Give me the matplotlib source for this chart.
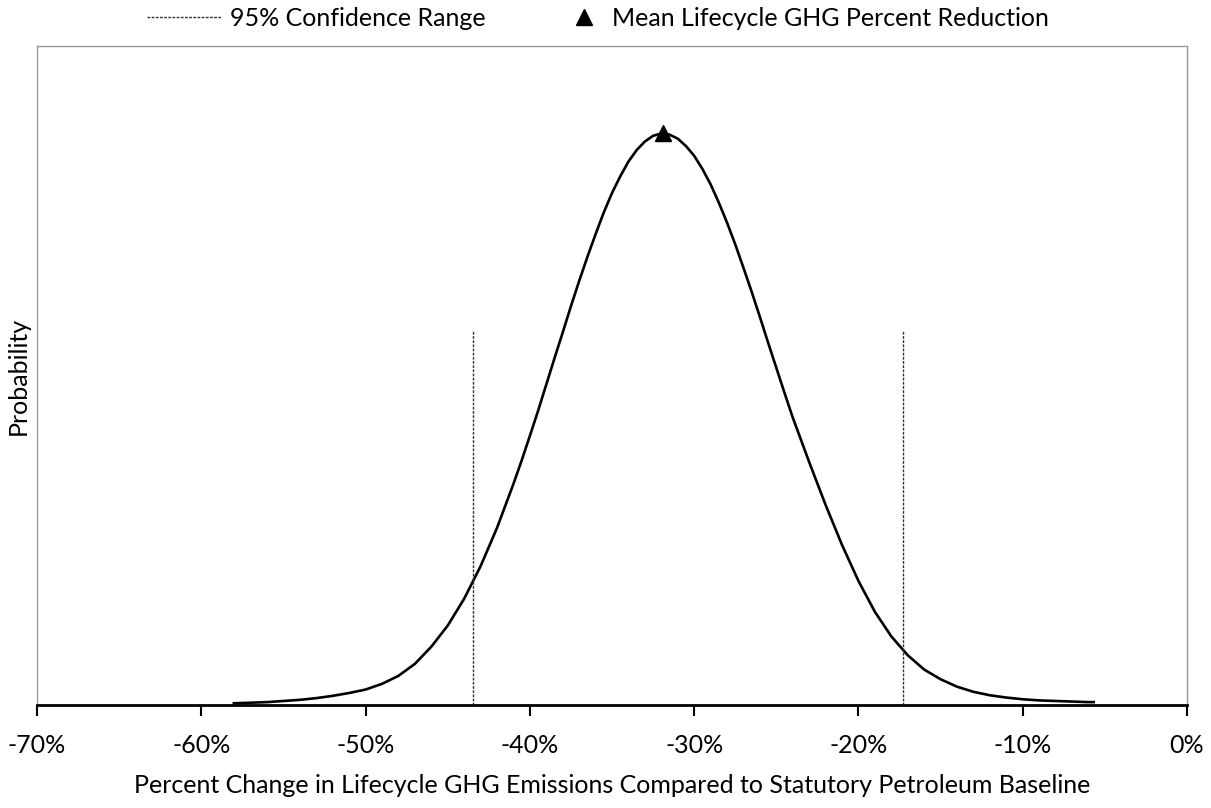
import numpy as np
from matplotlib import pyplot as plt
from matplotlib.lines import Line2D

# percent change (x) and relative probability (peak = 1)
pct_change = [-58.1, -58, -57, -56, -55, -54, -53, -52, -51, -50, -49, -48, -47,
              -46, -45, -44, -43, -42, -41, -40.5, -40, -39.5, -39, -38.5, -38,
              -37.5, -37, -36.5, -36, -35.5, -35, -34.5, -34, -33.5, -33, -32.5,
              -32, -31.9, -31.5, -31, -30.5, -30, -29.5, -29, -28.5, -28, -27.5,
              -27, -26.5, -26, -25.5, -25, -24.5, -24, -23.5, -23, -22, -21, -20,
              -19, -18, -17, -16, -15, -14, -13, -12, -11, -10, -9, -8, -7, -6,
              -5.6]
probability = [0.003, 0.003, 0.004, 0.005, 0.007, 0.009, 0.012, 0.016, 0.021,
               0.027, 0.037, 0.051, 0.072, 0.102, 0.139, 0.186, 0.243, 0.310,
               0.387, 0.428, 0.471, 0.515, 0.561, 0.607, 0.652, 0.698, 0.742,
               0.784, 0.824, 0.862, 0.896, 0.925, 0.951, 0.971, 0.986, 0.996,
               1.000, 1.000, 0.998, 0.991, 0.978, 0.961, 0.938, 0.911, 0.879,
               0.844, 0.806, 0.765, 0.723, 0.679, 0.634, 0.590, 0.546, 0.503,
               0.464, 0.425, 0.350, 0.280, 0.217, 0.163, 0.120, 0.087, 0.062,
               0.045, 0.032, 0.023, 0.017, 0.013, 0.010, 0.008, 0.007, 0.006,
               0.005, 0.005]

# 95% confidence range and mean
ci_bounds = [-43.45, -17.3]
ci_height = 0.656
mean_pct = -31.9
mean_prob = 1.0

x_ticks = [-70, -60, -50, -40, -30, -20, -10, 0]
x_tick_labels = ['-70%', '-60%', '-50%', '-40%', '-30%', '-20%', '-10%', '0%']

plt.rcParams['font.family'] = ['Lato', 'DejaVu Sans']

fig = plt.figure(figsize=(12.11, 8.08), dpi=100)
ax = fig.add_axes([0.0306, 0.1275, 0.9496, 0.8155])

ax.plot(pct_change, probability, color='black', lw=1.9,
        solid_joinstyle='round', solid_capstyle='butt')
for b in ci_bounds:
    ax.plot([b, b], [0, ci_height], color='#333333', lw=1.0, linestyle=(0, (2, 1)))
ax.plot([mean_pct], [mean_prob], marker='^', color='black', markersize=12,
        linestyle='none')

ax.set_xlim(-70, 0)
ax.set_ylim(0, 1.153)
ax.set_xticks(x_ticks)
ax.set_xticklabels(x_tick_labels, fontsize=18)
ax.set_yticks([])
ax.tick_params(axis='x', direction='out', length=8, width=1.5, pad=13)

for side in ['top', 'left', 'right']:
    ax.spines[side].set_color('#999999')
    ax.spines[side].set_linewidth(1.0)
ax.spines['bottom'].set_color('black')
ax.spines['bottom'].set_linewidth(2.0)

ax.set_xlabel('Percent Change in Lifecycle GHG Emissions Compared to Statutory Petroleum Baseline',
              fontsize=18, labelpad=12)
ax.set_ylabel('Probability', fontsize=18, labelpad=5)

# legend, two pieces so the handles sit like the original
h1 = Line2D([], [], color='#333333', lw=1.0, linestyle=(0, (2, 1)))
h2 = Line2D([], [], color='black', marker='^', markersize=12, linestyle='none')
leg1 = fig.legend([h1], ['95% Confidence Range'], loc='center left',
                  bbox_to_anchor=(0.121, 0.977), frameon=False, fontsize=18,
                  handlelength=3.0, handletextpad=0.35, borderpad=0,
                  borderaxespad=0)
leg2 = fig.legend([h2], ['Mean Lifecycle GHG Percent Reduction'], loc='center left',
                  bbox_to_anchor=(0.472, 0.977), frameon=False, fontsize=18,
                  handlelength=1.0, handletextpad=0.6, borderpad=0,
                  borderaxespad=0)

plt.savefig('out.png', dpi=100)
